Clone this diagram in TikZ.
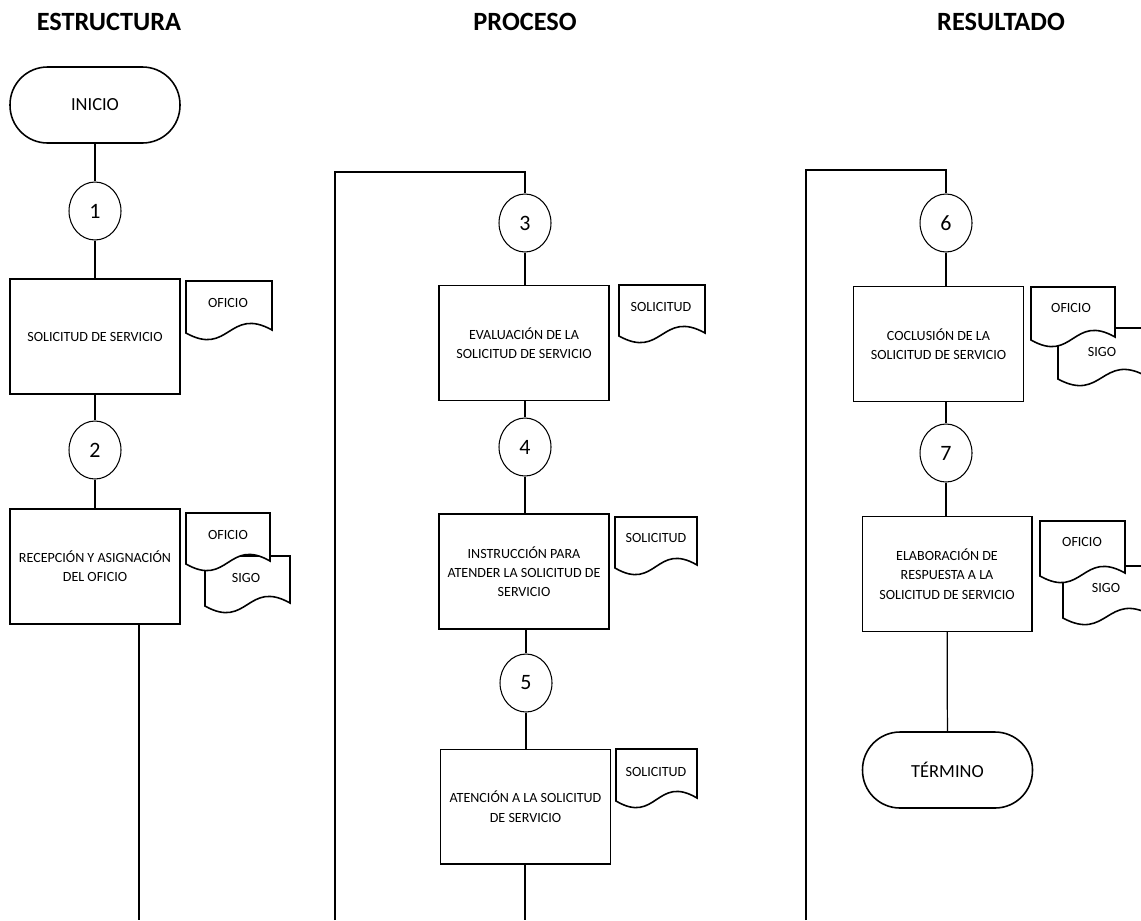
\documentclass[tikz,border=0pt]{standalone}
\usepackage{fontspec}
\setmainfont{Carlito}
\usetikzlibrary{shapes.geometric}
% document sheet with a wavy lower edge: left x, top y, right x, bottom y
\newcommand\docsheet[4]{%
  \draw[docline] (#1,#2) -- (#3,#2) -- (#3,#4-3)
    .. controls ({(#1+#3)/2},#4-27) and ({(#1+#3)/2},#4+24) .. (#1,#4) -- cycle;}
\begin{document}
\begin{tikzpicture}[x=0.02cm,y=-0.02cm,
  every node/.style={font=\fontsize{8}{11}\selectfont, align=center, inner sep=0pt},
  header/.style={font=\fontsize{15}{18}\selectfont\bfseries},
  terminal/.style={draw, line width=0.9pt, rounded corners=0.75cm,
    minimum width=3.4cm, minimum height=1.52cm, font=\fontsize{10.5}{12}\selectfont},
  stepbox/.style={draw, line width=0.6pt, minimum width=3.4cm, minimum height=2.3cm},
  marker/.style={draw, ellipse, line width=0.6pt, minimum width=1.04cm,
    minimum height=1.16cm, font=\fontsize{12.5}{14}\selectfont},
  flow/.style={line width=1.1pt},
  thinflow/.style={line width=0.7pt},
  docline/.style={line width=0.9pt, fill=white, line join=miter},
  doclabel/.style={font=\fontsize{8}{10}\selectfont},
]
\useasboundingbox (0,0) rectangle (1141,920);

% column headers
\node[header] (h1) at (109,22) {ESTRUCTURA};
\node[header] (h2) at (525,22) {PROCESO};
\node[header] (h3) at (1001,22) {RESULTADO};

% ---- ESTRUCTURA ----
\node[terminal] (inicio) at (95,105) {INICIO};
\node[marker] (c1) at (95,211) {1};
\node[stepbox] (b1) at (95,336.5) {SOLICITUD DE SERVICIO};
\node[marker] (c2) at (95,450) {2};
\node[stepbox] (b2) at (95,566.5) {RECEPCIÓN Y ASIGNACIÓN\\DEL OFICIO};

\docsheet{186}{281}{272}{333}
\node[doclabel] (d1) at (228,303) {OFICIO};
\docsheet{205}{556}{290}{606}
\node[doclabel] (d2b) at (246,578) {SIGO};
\docsheet{186}{513}{270}{564}
\node[doclabel] (d2a) at (228,535) {OFICIO};

% ---- PROCESO ----
\node[marker] (c3) at (525,223) {3};
\node[stepbox] (b3) at (524,343) {EVALUACIÓN DE LA\\SOLICITUD DE SERVICIO};
\node[marker] (c4) at (525,447) {4};
\node[stepbox] (b4) at (524,571.5) {INSTRUCCIÓN PARA\\ATENDER LA SOLICITUD DE\\SERVICIO};
\node[marker] (c5) at (526,683) {5};
\node[stepbox] (b5) at (525.5,806.5) {ATENCIÓN A LA SOLICITUD\\DE SERVICIO};

\docsheet{619}{285}{705}{336}
\node[doclabel] (d3) at (661,307) {SOLICITUD};
\docsheet{615}{517}{697}{568}
\node[doclabel] (d4) at (656,538) {SOLICITUD};
\docsheet{616}{749}{697}{801}
\node[doclabel] (d5) at (656,772) {SOLICITUD};

% ---- RESULTADO ----
\node[marker] (c6) at (946,223) {6};
\node[stepbox] (b6) at (938.5,344) {COCLUSIÓN DE LA\\SOLICITUD DE SERVICIO};
\node[marker] (c7) at (946,453) {7};
\node[stepbox] (b7) at (947,574) {ELABORACIÓN DE\\RESPUESTA A LA\\SOLICITUD DE SERVICIO};
\node[terminal] (fin) at (947.5,770) {TÉRMINO};

\docsheet{1058}{328}{1146}{379}
\node[doclabel] (d6b) at (1102,352) {SIGO};
\docsheet{1031}{287}{1115}{340}
\node[doclabel] (d6a) at (1071,308) {OFICIO};
\docsheet{1063}{566}{1151}{618}
\node[doclabel] (d7b) at (1106,588) {SIGO};
\docsheet{1040}{521}{1125}{576}
\node[doclabel] (d7a) at (1082,542) {OFICIO};

% ---- connectors ----
\coordinate (e1) at (139,920);
\coordinate (p0) at (335,920);
\coordinate (p1) at (335,172);
\coordinate (p2) at (525,172);
\coordinate (e2) at (525,920);
\coordinate (r0) at (806,920);
\coordinate (r1) at (806,170);
\coordinate (r2) at (946,170);

\draw[flow] (inicio) -- (c1);
\draw[flow] (c1) -- (b1);
\draw[flow] (b1) -- (c2);
\draw[flow] (c2) -- (b2);
\draw[flow] (b2.south -| e1) -- (e1);

\draw[flow] (p0) -- (p1) -- (p2) -- (c3);
\draw[flow] (c3) -- (b3.north -| c3);
\draw[flow] (b3.south -| c4) -- (c4);
\draw[flow] (c4) -- (b4.north -| c4);
\draw[flow] (b4.south -| c5) -- (c5);
\draw[flow] (c5) -- (b5.north -| c5);
\draw[flow] (b5.south -| e2) -- (e2);

\draw[flow] (r0) -- (r1) -- (r2) -- (c6);
\draw[flow] (c6) -- (b6.north -| c6);
\draw[flow] (b6.south -| c7) -- (c7);
\draw[flow] (c7) -- (b7.north -| c7);
\draw[thinflow] (b7) -- (fin);
\end{tikzpicture}
\end{document}
